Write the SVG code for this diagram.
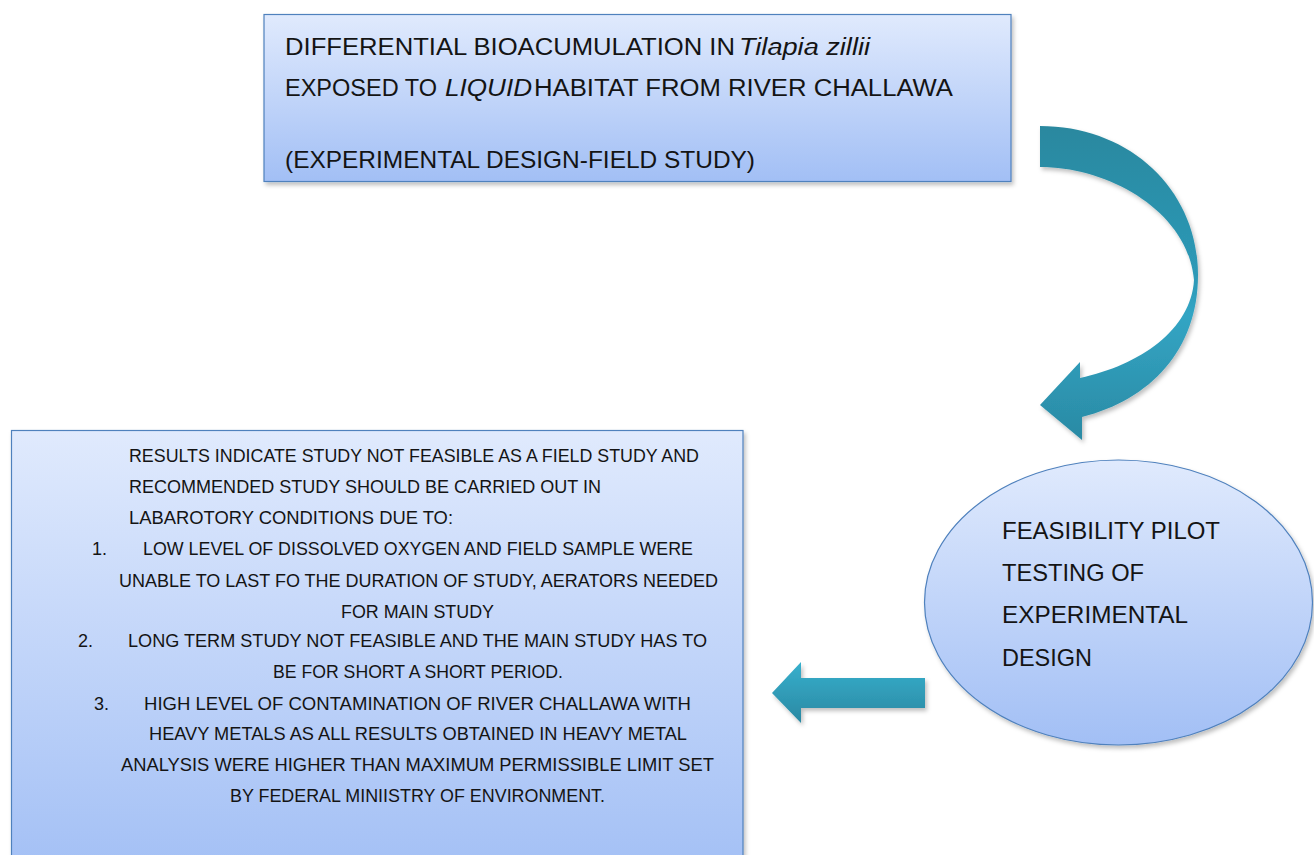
<svg xmlns="http://www.w3.org/2000/svg" width="1314" height="855" viewBox="0 0 1314 855">
<defs>
<linearGradient id="boxGrad" x1="0" y1="0" x2="0" y2="1">
<stop offset="0" stop-color="#e0eafd"/>
<stop offset="1" stop-color="#a2bff5"/>
</linearGradient>
<linearGradient id="arrowGrad" x1="0" y1="0" x2="0" y2="1">
<stop offset="0" stop-color="#2a889f"/>
<stop offset="0.5" stop-color="#2d9ab8"/>
<stop offset="0.6" stop-color="#33a5c4"/>
<stop offset="1" stop-color="#2a8aa4"/>
</linearGradient>
<linearGradient id="leftGrad" x1="0" y1="0" x2="0" y2="1">
<stop offset="0" stop-color="#37b0cd"/>
<stop offset="1" stop-color="#2a88a2"/>
</linearGradient>
<filter id="shadow" x="-5%" y="-5%" width="110%" height="115%">
<feDropShadow dx="2" dy="3" stdDeviation="2" flood-color="#000" flood-opacity="0.25"/>
</filter>
</defs>
<style>
.box{fill:url(#boxGrad);stroke:#4f81bd;stroke-width:1.2;filter:url(#shadow)}
.t{font-family:"Liberation Sans",Arial,sans-serif;fill:#141414}
.big{font-size:24.5px}
.sm{font-size:18px}
.it{font-style:italic}
</style>
<rect width="1314" height="855" fill="#ffffff"/>

<g id="title-node">
<rect class="box" x="264" y="14.5" width="747" height="167"/>
<text class="t big" x="285" y="55" textLength="450" lengthAdjust="spacingAndGlyphs">DIFFERENTIAL BIOACUMULATION IN</text>
<text class="t big it" x="739" y="55" textLength="131" lengthAdjust="spacingAndGlyphs">Tilapia zillii</text>
<text class="t big" x="285" y="96" textLength="152" lengthAdjust="spacingAndGlyphs">EXPOSED TO</text>
<text class="t big it" x="445" y="96" textLength="87" lengthAdjust="spacingAndGlyphs">LIQUID</text>
<text class="t big" x="534" y="96" textLength="419" lengthAdjust="spacingAndGlyphs">HABITAT FROM RIVER CHALLAWA</text>
<text class="t big" x="285" y="168" textLength="470" lengthAdjust="spacingAndGlyphs">(EXPERIMENTAL DESIGN-FIELD STUDY)</text>
</g>

<g id="feasibility-node">
<ellipse class="box" cx="1118.5" cy="602.5" rx="194" ry="142.5"/>
<text class="t big" x="1002" y="539" textLength="218" lengthAdjust="spacingAndGlyphs">FEASIBILITY PILOT</text>
<text class="t big" x="1002" y="581" textLength="142" lengthAdjust="spacingAndGlyphs">TESTING OF</text>
<text class="t big" x="1002" y="623" textLength="186" lengthAdjust="spacingAndGlyphs">EXPERIMENTAL</text>
<text class="t big" x="1002" y="666" textLength="90" lengthAdjust="spacingAndGlyphs">DESIGN</text>
</g>

<g id="results-node">
<rect class="box" x="11.5" y="430.5" width="731.5" height="450"/>
<text class="t sm" x="129" y="462" textLength="570" lengthAdjust="spacingAndGlyphs">RESULTS INDICATE STUDY NOT FEASIBLE AS A FIELD STUDY AND</text>
<text class="t sm" x="129" y="493" textLength="472" lengthAdjust="spacingAndGlyphs">RECOMMENDED STUDY SHOULD BE CARRIED OUT IN</text>
<text class="t sm" x="129" y="524" textLength="324" lengthAdjust="spacingAndGlyphs">LABAROTORY CONDITIONS DUE TO:</text>
<text class="t sm" x="92" y="555">1.</text>
<text class="t sm" x="143" y="555" textLength="550" lengthAdjust="spacingAndGlyphs">LOW LEVEL OF DISSOLVED OXYGEN AND FIELD SAMPLE WERE</text>
<text class="t sm" x="119" y="587" textLength="599" lengthAdjust="spacingAndGlyphs">UNABLE TO LAST FO THE DURATION OF STUDY, AERATORS NEEDED</text>
<text class="t sm" x="341" y="618" textLength="153" lengthAdjust="spacingAndGlyphs">FOR MAIN STUDY</text>
<text class="t sm" x="78" y="647">2.</text>
<text class="t sm" x="128" y="647" textLength="579" lengthAdjust="spacingAndGlyphs">LONG TERM STUDY NOT FEASIBLE AND THE MAIN STUDY HAS TO</text>
<text class="t sm" x="273" y="678" textLength="290" lengthAdjust="spacingAndGlyphs">BE FOR SHORT A SHORT PERIOD.</text>
<text class="t sm" x="94" y="710">3.</text>
<text class="t sm" x="144" y="710" textLength="547" lengthAdjust="spacingAndGlyphs">HIGH LEVEL OF CONTAMINATION OF RIVER CHALLAWA WITH</text>
<text class="t sm" x="149" y="740" textLength="538" lengthAdjust="spacingAndGlyphs">HEAVY METALS AS ALL RESULTS OBTAINED IN HEAVY METAL</text>
<text class="t sm" x="121" y="771" textLength="593" lengthAdjust="spacingAndGlyphs">ANALYSIS WERE HIGHER THAN MAXIMUM PERMISSIBLE LIMIT SET</text>
<text class="t sm" x="230" y="802" textLength="375" lengthAdjust="spacingAndGlyphs">BY FEDERAL MINIISTRY OF ENVIRONMENT.</text>
</g>

<g id="connectors">
<path fill="url(#arrowGrad)" filter="url(#shadow)" d="M1040,126 C1130,126 1198,190 1198,275 C1198,350 1150,400 1082,417 L1082,440 L1040,405 L1080,362 L1080,378 C1140,365 1191,330 1194,280 C1188,212 1110,167 1040,167 Z"/>
<path fill="url(#leftGrad)" filter="url(#shadow)" d="M772,693 L801,662 L801,678 L925,678 L925,708 L801,708 L801,723 Z"/>
</g>
</svg>
